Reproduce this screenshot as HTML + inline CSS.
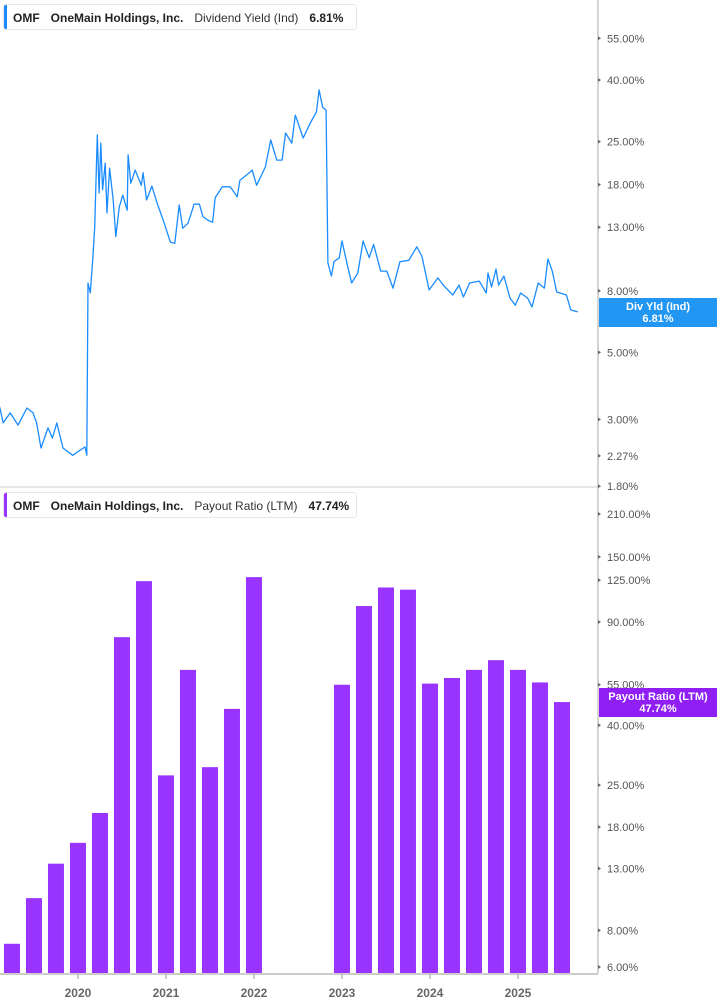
<!DOCTYPE html>
<html><head><meta charset="utf-8">
<style>
body{margin:0;width:717px;height:1005px;background:#fff;font-family:"Liberation Sans",sans-serif;overflow:hidden;position:relative}
.legend{position:absolute;left:3px;height:26px;width:354px;border:1px solid #e6e6e6;border-radius:3px;background:#fff;font-size:12px;font-weight:bold;color:#222;line-height:26px;box-sizing:border-box;padding-left:9px;white-space:nowrap}
.legend .bar{position:absolute;left:0;top:0;bottom:0;width:3px;border-radius:2px 0 0 2px}
.legend span{margin-right:11px}
.badge{position:absolute;left:599px;width:118px;color:#fff;font-weight:bold;font-size:11px;text-align:center;line-height:12px;padding-top:3px;box-sizing:border-box}
</style></head><body>
<svg id="chart" width="717" height="1005" style="position:absolute;left:0;top:0"></svg>
<div class="legend" style="top:4px"><div class="bar" style="background:#1a8cff"></div><span>OMF</span><span>OneMain Holdings, Inc.</span><span style="font-weight:normal;color:#333">Dividend Yield (Ind)</span><span>6.81%</span></div>
<div class="legend" style="top:492px"><div class="bar" style="background:#9933ff"></div><span>OMF</span><span>OneMain Holdings, Inc.</span><span style="font-weight:normal;color:#333">Payout Ratio (LTM)</span><span>47.74%</span></div>
<div class="badge" style="top:298px;height:29px;background:#2196f3">Div Yld (Ind)<br>6.81%</div>
<div class="badge" style="top:688px;height:29px;background:#8f1ff5">Payout Ratio (LTM)<br>47.74%</div>
<script>
const yieldDates=[2019.11,2019.15,2019.23,2019.32,2019.42,2019.49,2019.53,2019.58,2019.66,2019.71,2019.76,2019.83,2019.94,2020.08,2020.10,2020.114,2020.14,2020.17,2020.19,2020.22,2020.24,2020.26,2020.28,2020.31,2020.33,2020.36,2020.40,2020.43,2020.47,2020.51,2020.56,2020.57,2020.60,2020.65,2020.72,2020.74,2020.78,2020.84,2020.90,2020.97,2021.05,2021.10,2021.15,2021.19,2021.25,2021.32,2021.38,2021.42,2021.48,2021.53,2021.56,2021.64,2021.73,2021.81,2021.84,2021.92,2021.98,2022.03,2022.13,2022.19,2022.26,2022.32,2022.36,2022.43,2022.47,2022.56,2022.64,2022.71,2022.74,2022.78,2022.82,2022.84,2022.88,2022.91,2022.97,2023.00,2023.06,2023.11,2023.18,2023.24,2023.31,2023.36,2023.44,2023.51,2023.58,2023.66,2023.76,2023.85,2023.91,2023.99,2024.09,2024.15,2024.26,2024.33,2024.38,2024.45,2024.56,2024.64,2024.66,2024.70,2024.75,2024.78,2024.84,2024.91,2024.97,2025.03,2025.11,2025.16,2025.23,2025.30,2025.34,2025.39,2025.44,2025.55,2025.60,2025.68];
const yieldValues=[3.30,2.92,3.15,2.87,3.27,3.15,2.92,2.41,2.81,2.60,2.92,2.41,2.28,2.43,2.28,8.49,7.87,10.36,13.0,26.3,16.9,24.7,17.3,21.2,14.5,20.4,16.0,12.1,15.2,16.6,14.8,22.6,18.2,20.1,17.9,19.7,16.0,17.8,15.6,13.7,11.6,11.5,15.4,12.9,13.4,15.5,15.5,14.1,13.7,13.5,16.3,17.7,17.7,16.4,18.6,19.4,20.1,17.9,20.6,25.3,21.7,21.7,26.7,24.7,30.6,25.7,28.8,31.3,37.1,32.5,31.8,9.9,8.96,10.0,10.3,11.7,9.8,8.49,9.17,11.7,10.3,11.4,9.3,9.3,8.17,10.0,10.1,11.2,10.4,8.05,8.83,8.36,7.75,8.36,7.63,8.49,8.62,7.87,9.17,8.24,9.45,8.36,8.96,7.57,7.17,7.87,7.57,7.07,8.49,8.17,10.2,9.3,7.93,7.75,6.91,6.81];
const yieldTicks=[55,40,25,18,13,8,5,3,2.27,1.8];
const payoutDates=[2019.25,2019.5,2019.75,2020.0,2020.25,2020.5,2020.75,2021.0,2021.25,2021.5,2021.75,2022.0,2023.0,2023.25,2023.5,2023.75,2024.0,2024.25,2024.5,2024.75,2025.0,2025.25,2025.5];
const payoutValues=[7.2,10.3,13.5,15.9,20.1,79.9,124,27,61.8,28.8,45.5,128,55,102,118,116,55.5,58,61.8,66.7,61.8,56,48];
const payoutTicks=[210,150,125,90,55,40,25,18,13,8,6];
const yearLabels=[2020,2021,2022,2023,2024,2025];

const NS='http://www.w3.org/2000/svg';
const svg=document.getElementById('chart');
function mk(t,a){const e=document.createElementNS(NS,t);for(const k in a)e.setAttribute(k,a[k]);svg.appendChild(e);return e;}
const xOf=d=>(d-2019.114)*88;
const yTop=v=>80-131*Math.log(v/40);
const yBot=v=>967-127.4*Math.log(v/6);

// separator and axes
let e=mk('line',{x1:0,y1:487,x2:598,y2:487,stroke:'#ddd','stroke-width':1.5});


e=mk('line',{x1:598,y1:0,x2:598,y2:974,stroke:'#aaa','stroke-width':1});


e=mk('line',{x1:0,y1:974,x2:598,y2:974,stroke:'#bbb','stroke-width':1.5});



function tick(y,label,name){
  let t=mk('path',{d:`M598 ${y-2}L601 ${y}L598 ${y+2}Z`,fill:'#666'});
  
  
  t=mk('text',{x:607,y:y+4,'font-size':11,fill:'#555','font-family':'Liberation Sans, sans-serif'});
  t.textContent=label;
  
  
}
yieldTicks.forEach(v=>tick(yTop(v),v.toFixed(2)+'%','yield-axis'));
payoutTicks.forEach(v=>tick(yBot(v),v.toFixed(2)+'%','payout-axis'));

yearLabels.forEach(yr=>{
  const x=xOf(yr);
  let t=mk('line',{x1:x,y1:974,x2:x,y2:979,stroke:'#999'});
  
  
  t=mk('text',{x:x,y:997,'font-size':12,'font-weight':'bold',fill:'#666','text-anchor':'middle','font-family':'Liberation Sans, sans-serif'});
  t.textContent=yr;
  
  
});

// dividend yield line
let d='';
yieldDates.forEach((dt,i)=>{d+=(i?'L':'M')+xOf(dt).toFixed(1)+' '+yTop(yieldValues[i]).toFixed(1);});
e=mk('path',{d:d,fill:'none',stroke:'#1a8cff','stroke-width':1.3,'stroke-linejoin':'round'});



// payout bars
payoutDates.forEach((dt,i)=>{
  const cx=xOf(dt);const y=yBot(payoutValues[i]);
  const b=mk('rect',{x:cx-8,y:y,width:16,height:973-y,fill:'#9933ff'});
  
  
});
</script>
</body></html>
